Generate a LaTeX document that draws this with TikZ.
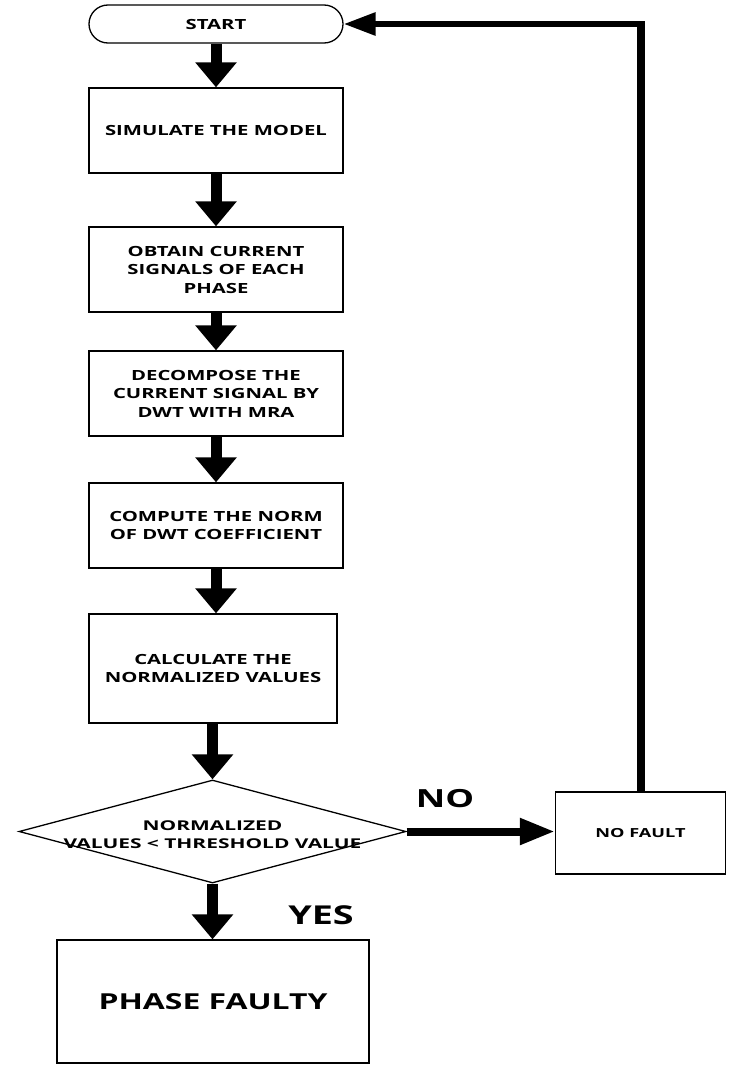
\documentclass[tikz,border=0pt]{standalone}
\usepackage{fontspec}
\setmainfont{Open Sans}
\usetikzlibrary{arrows.meta,shapes.geometric,calc}
\newcommand{\sx}[1]{\scalebox{1.45}[1]{#1}}
\newcommand{\sxd}[1]{\scalebox{1.55}[1]{#1}}
\tikzset{
  box/.style={draw, line width=1.3pt, inner sep=0pt, align=center,
    font=\bfseries\fontsize{14}{18.5}\selectfont},
  startbox/.style={box, rounded corners=19pt, minimum width=254pt, minimum height=38pt},
  stdbox/.style={box, minimum width=254pt, minimum height=85pt},
  decision/.style={draw, line width=1.3pt, diamond, inner sep=0pt},
  vflow/.style={line width=11pt, -{Triangle[width=40pt,length=25pt]}},
  hflow/.style={line width=8pt, -{Triangle[width=25pt,length=35pt]}},
  biglabel/.style={font=\bfseries\fontsize{25}{28}\selectfont, inner sep=0pt}
}
\begin{document}
\begin{tikzpicture}[x=1pt,y=-1pt]
\useasboundingbox (0,0) rectangle (730,1065);
\fill[white] (0,0) rectangle (730,1065);

\node[startbox] (start) at (216,24) {\sx{START}};
\node[stdbox] (sim) at (216,130.5) {\sx{SIMULATE THE MODEL}};
\node[stdbox] (obt) at (216,269.5) {\sx{OBTAIN CURRENT}\\\sx{SIGNALS OF EACH}\\\sx{PHASE}};
\node[stdbox] (dec) at (216,393.5) {\sx{DECOMPOSE THE}\\\sx{CURRENT SIGNAL BY}\\\sx{DWT WITH MRA}};
\node[stdbox] (cmp) at (216,525.5) {\sx{COMPUTE THE NORM}\\\sx{OF DWT COEFFICIENT}};
\node[box, minimum width=248pt, minimum height=109pt] (calc) at (213,668.5) {\sx{CALCULATE THE}\\\sx{NORMALIZED VALUES}};
\node[decision, minimum width=387pt, minimum height=103pt,
  label={[align=center, yshift=-3pt, font=\bfseries\fontsize{13.5}{18.5}\selectfont]center:\sxd{NORMALIZED}\\\sxd{VALUES < THRESHOLD VALUE}}] (dia) at (212.5,831.5) {};
\node[box, minimum width=170pt, minimum height=82pt, font=\bfseries\fontsize{12.5}{15}\selectfont] (nof) at (640.5,833) {\sx{NO FAULT}};
\node[box, minimum width=312pt, minimum height=123pt, font=\bfseries\fontsize{22}{26}\selectfont] (pf) at (213,1001.5) {\sx{PHASE FAULTY}};

\draw[vflow] (start.south) -- (sim.north);
\draw[vflow] (sim.south) -- (obt.north);
\draw[vflow] (obt.south) -- (dec.north);
\draw[vflow] (dec.south) -- (cmp.north);
\draw[vflow] (cmp.south) -- (cmp.south |- calc.north);
\draw[vflow] (calc.south -| dia.north) -- (dia.north);
\draw[vflow] (dia.south) -- (pf.north -| dia.south);
\draw[hflow] (dia.east) -- (nof.west |- dia.east);

\coordinate (corner) at (nof.north |- start.east);
\draw[line width=8pt, shorten >=-3pt] (nof.north) -- (corner);
\draw[line width=6pt, -{Triangle[width=22pt,length=32pt]}] (corner) -- (start.east);

\node[biglabel] (nolbl) at (445,799) {\sx{NO}};
\node[biglabel, font=\bfseries\fontsize{26}{28}\selectfont] (yeslbl) at (321,915) {\sx{YES}};
\end{tikzpicture}
\end{document}
